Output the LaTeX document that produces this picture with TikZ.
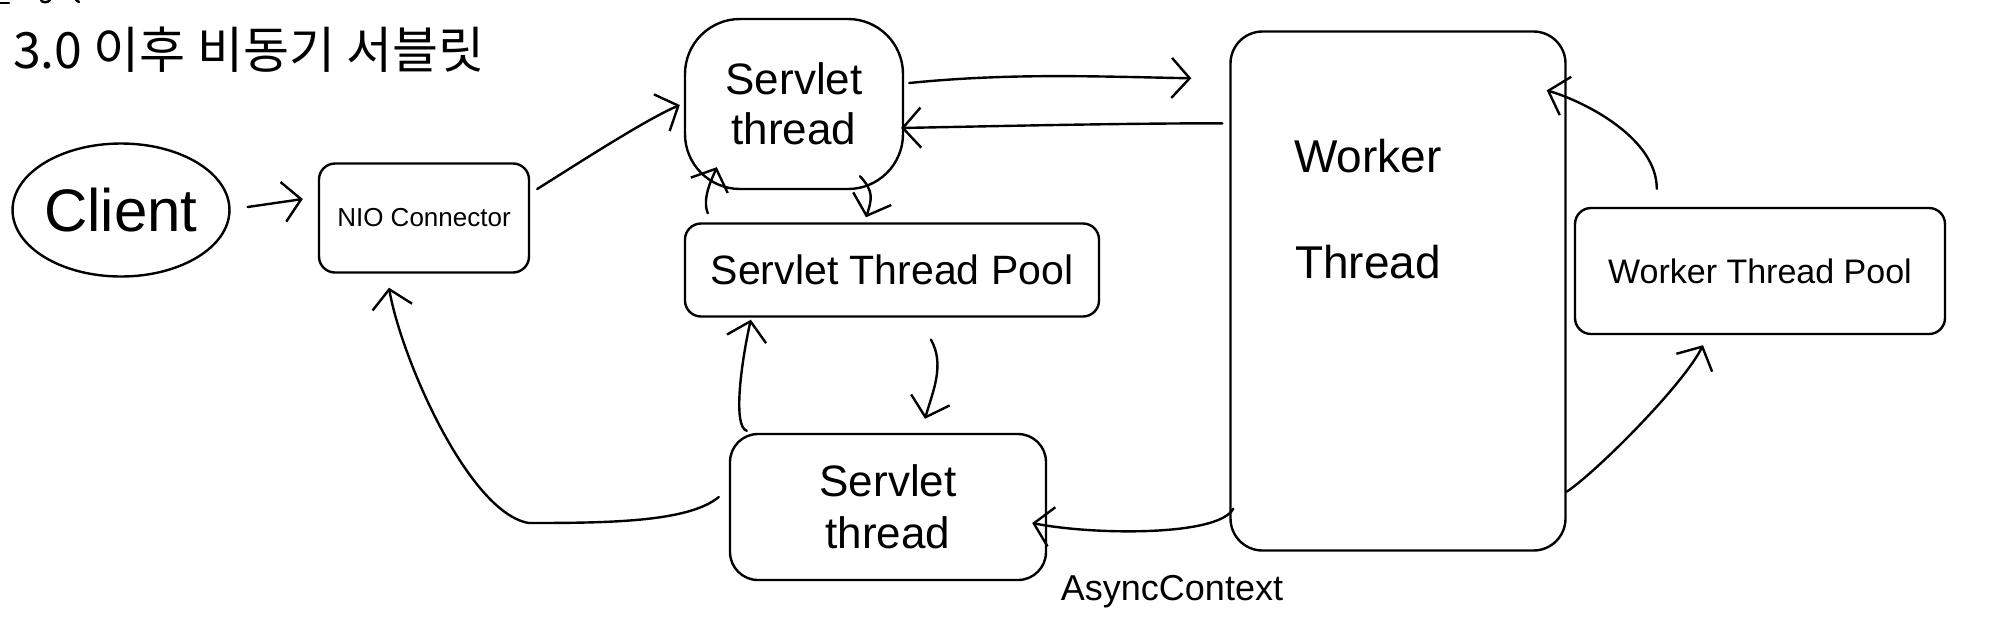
\documentclass[tikz,border=0pt]{standalone}
\usepackage{fontspec}
\setmainfont{Liberation Sans}
\newfontfamily\krfont{Noto Sans CJK KR}
\usetikzlibrary{arrows.meta,shapes.geometric,calc}
\tikzset{
  sk/.style={line width=2.4pt, line cap=round, line join=round},
  box/.style={sk, draw, rounded corners=16pt, align=center, inner sep=0pt},
  conn/.style={sk, draw, -{Straight Barb[length=18pt,width=40pt,line width=2.4pt]}},
  fsz/.style={font=\fontsize{#1}{#1}\selectfont},
}
\begin{document}
\begin{tikzpicture}[x=1pt,y=-1pt]
\useasboundingbox (0,0) rectangle (2000,638);
% cut-off strokes at the top edge
\draw[sk] (0,3) -- (9,3);
\draw[sk] (41,0) .. controls (42,3) and (48,3) .. (50,0);
\draw[sk] (76,0) -- (79,2);
% title
\node[font=\krfont\fontsize{50}{54}\selectfont, anchor=west, inner sep=0pt] (title) at (13,50) {3.0 이후 비동기 서블릿};
% nodes
\node[box, ellipse, minimum width=204pt, minimum height=133pt, fsz=60] (client) at (121,210) {Client};
\node[box, minimum width=210pt, minimum height=109pt, fsz=26] (nio) at (424,218) {NIO Connector};
\node[box, rounded corners=55pt, minimum width=218pt, minimum height=170pt, align=center, font=\fontsize{44}{50}\selectfont] (stt) at (794,104) {Servlet\\thread};
\node[box, minimum width=414pt, minimum height=93pt, fsz=41] (pool) at (892,270) {Servlet Thread Pool};
\node[box, rounded corners=28pt, minimum width=316pt, minimum height=146pt, font=\fontsize{44}{52}\selectfont] (stb) at (888,507) {Servlet\\thread};
\node[box, rounded corners=32pt, minimum width=335pt, minimum height=519pt] (worker) at (1398,291) {};
\node[align=center, inner sep=0pt, font=\fontsize{46}{106}\selectfont] (wtext) at (1368,209) {Worker\\Thread};
\node[box, minimum width=370pt, minimum height=126pt, fsz=34] (wpool) at (1760,271) {Worker Thread Pool};
\node[inner sep=0pt, fsz=36] (ac) at (1172,592) {AsyncContext};
% connectors
\draw[conn] ($(client.east)+(17,-3)$) -- ($(nio.west)+(-15,-19)$);
\draw[conn] ($(nio.east)+(7,-29)$) .. controls +(40,-25) and +(-35,15) .. ($(stt.west)+(-4,1)$);
\draw[conn] ($(stt.east)+(5,-21)$) .. controls +(100,-10) and +(-100,-2) .. ($(worker.north west)+(-38,48)$);
\draw[conn] ($(worker.north west)+(-7,93)$) .. controls +(-100,0) and +(100,-2) .. ($(stt.east)+(-3,24)$);
\draw[conn] ($(stt.south)+(66,-14)$) .. controls +(14,15) and +(6,-18) .. ($(pool.north)+(-26,-5)$);
\draw[conn] ($(pool.north west)+(24,-9)$) .. controls +(-6,-15) and +(-5,12) .. ($(stt.south west)+(33,-23)$);
\draw[conn] ($(pool.south)+(39,22)$) .. controls +(14,25) and +(8,-28) .. ($(stb.north)+(37,-14)$);
\draw[conn] ($(stb.north west)+(18,-2)$) .. controls +(-14,-4) and +(-10,45) .. ($(pool.south west)+(67,2)$);
\draw[conn] ($(stb.west)+(-10,-10)$) .. controls +(-30,25) and +(80,0) .. ++(-190,26) .. controls +(-60,-10) and +(12,70) .. ($(nio.south)+(-35,14)$);
\draw[conn] ($(worker.south west)+(4,-43)$) .. controls +(-15,28) and +(60,12) .. ($(stb.east)+(-15,16)$);
\draw[conn] ($(wpool.north west)+(83,-18)$) .. controls +(0,-50) and +(40,12) .. ($(worker.north east)+(-20,60)$);
\draw[conn] ($(worker.south east)+(0,-60)$) .. controls +(30,-20) and +(-20,40) .. ($(wpool.south)+(-57,10)$);
\end{tikzpicture}
\end{document}
